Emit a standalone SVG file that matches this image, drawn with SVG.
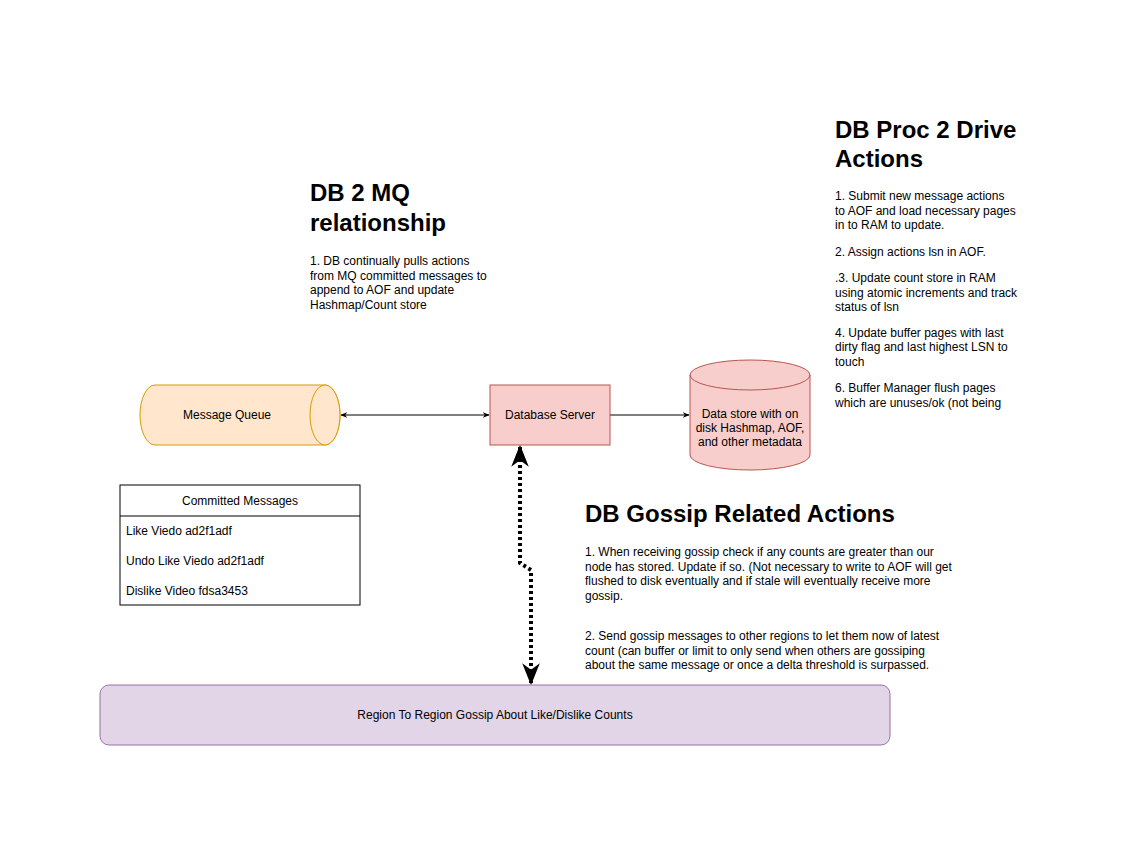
<svg xmlns="http://www.w3.org/2000/svg" width="1121" height="846" viewBox="0 0 1121 846">
<defs>
<style>
text{font-family:"Liberation Sans",Arial,Helvetica,sans-serif;fill:#000}
.b{font-size:12px}
.c{font-size:12px;text-anchor:middle}
.h{font-size:24px;font-weight:bold}
.l{fill:none;stroke:#000;stroke-width:1}
</style>
<marker id="ab" viewBox="0 0 10 10" refX="9" refY="5" markerWidth="7" markerHeight="7" orient="auto-start-reverse" markerUnits="userSpaceOnUse">
<path d="M0,1 L10,5 L0,9 L3,5 Z" fill="#000"/>
</marker>
<marker id="big" viewBox="0 0 10 10" refX="9" refY="5" markerWidth="22" markerHeight="22" orient="auto-start-reverse" markerUnits="userSpaceOnUse">
<path d="M0,1 L10,5 L0,9 L3,5 Z" fill="#000"/>
</marker>
</defs>
<rect width="1121" height="846" fill="#fff"/>

<g id="connectors">
<line class="l" x1="341" y1="415" x2="489" y2="415" marker-start="url(#ab)" marker-end="url(#ab)"/>
<line class="l" x1="610" y1="415" x2="689" y2="415" marker-end="url(#ab)"/>
<polyline points="520,447 520,563 531,570 531,683" fill="none" stroke="#000" stroke-width="4" stroke-dasharray="3 3" marker-start="url(#big)" marker-end="url(#big)"/>
</g>

<g id="message-queue">
<path d="M155,385 L325,385 A15,30 0 0 1 325,445 L155,445 A15,30 0 0 1 155,385 Z" fill="#ffe6cc" stroke="#d79b00"/>
<ellipse cx="325" cy="415" rx="15" ry="30" fill="#ffe6cc" stroke="#d79b00"/>
<text class="c" x="227" y="419">Message Queue</text>
</g>

<g id="database-server">
<rect x="490" y="385" width="120" height="60" fill="#f8cecc" stroke="#b85450"/>
<text class="c" x="550" y="419">Database Server</text>
</g>

<g id="data-store">
<path d="M690,375 A60,15 0 0 1 810,375 L810,455 A60,15 0 0 1 690,455 Z" fill="#f8cecc" stroke="#b85450"/>
<path d="M690,375 A60,15 0 0 0 810,375" fill="none" stroke="#b85450"/>
<text class="c" x="750" y="418">Data store with on</text>
<text class="c" x="750" y="432">disk Hashmap, AOF,</text>
<text class="c" x="750" y="446">and other metadata</text>
</g>

<g id="committed-messages">
<rect x="120" y="485" width="240" height="120" fill="#fff" stroke="#000"/>
<line x1="120" y1="516" x2="360" y2="516" stroke="#000"/>
<text class="c" x="240" y="505">Committed Messages</text>
<text class="b" x="126" y="535">Like Viedo ad2f1adf</text>
<text class="b" x="126" y="565">Undo Like Viedo ad2f1adf</text>
<text class="b" x="126" y="595">Dislike Video fdsa3453</text>
</g>

<g id="region-gossip">
<rect x="100" y="685" width="790" height="60" rx="9" fill="#e1d5e7" stroke="#9673a6"/>
<text class="c" x="495" y="719">Region To Region Gossip About Like/Dislike Counts</text>
</g>

<g id="db-mq-text">
<text class="h" x="310" y="201">DB 2 MQ</text>
<text class="h" x="310" y="231">relationship</text>
<text class="b" x="310" y="265">1. DB continually pulls actions</text>
<text class="b" x="310" y="280">from MQ committed messages to</text>
<text class="b" x="310" y="294">append to AOF and update</text>
<text class="b" x="310" y="309">Hashmap/Count store</text>
</g>

<g id="db-proc-text">
<text class="h" x="835" y="138">DB Proc 2 Drive</text>
<text class="h" x="835" y="167">Actions</text>
<text class="b" x="835" y="200">1. Submit new message actions</text>
<text class="b" x="835" y="215">to AOF and load necessary pages</text>
<text class="b" x="835" y="229">in to RAM to update.</text>
<text class="b" x="835" y="256">2. Assign actions lsn in AOF.</text>
<text class="b" x="835" y="282">.3. Update count store in RAM</text>
<text class="b" x="835" y="297">using atomic increments and track</text>
<text class="b" x="835" y="311">status of lsn</text>
<text class="b" x="835" y="337">4. Update buffer pages with last</text>
<text class="b" x="835" y="351">dirty flag and last highest LSN to</text>
<text class="b" x="835" y="366">touch</text>
<text class="b" x="835" y="392">6. Buffer Manager flush pages</text>
<text class="b" x="835" y="407">which are unuses/ok (not being</text>
</g>

<g id="db-gossip-text">
<text class="h" x="585" y="522">DB Gossip Related Actions</text>
<text class="b" x="585" y="556">1. When receiving gossip check if any counts are greater than our</text>
<text class="b" x="585" y="571">node has stored. Update if so. (Not necessary to write to AOF will get</text>
<text class="b" x="585" y="585">flushed to disk eventually and if stale will eventually receive more</text>
<text class="b" x="585" y="600">gossip.</text>
<text class="b" x="585" y="640">2. Send gossip messages to other regions to let them now of latest</text>
<text class="b" x="585" y="655">count (can buffer or limit to only send when others are gossiping</text>
<text class="b" x="585" y="669">about the same message or once a delta threshold is surpassed.</text>
</g>
</svg>
